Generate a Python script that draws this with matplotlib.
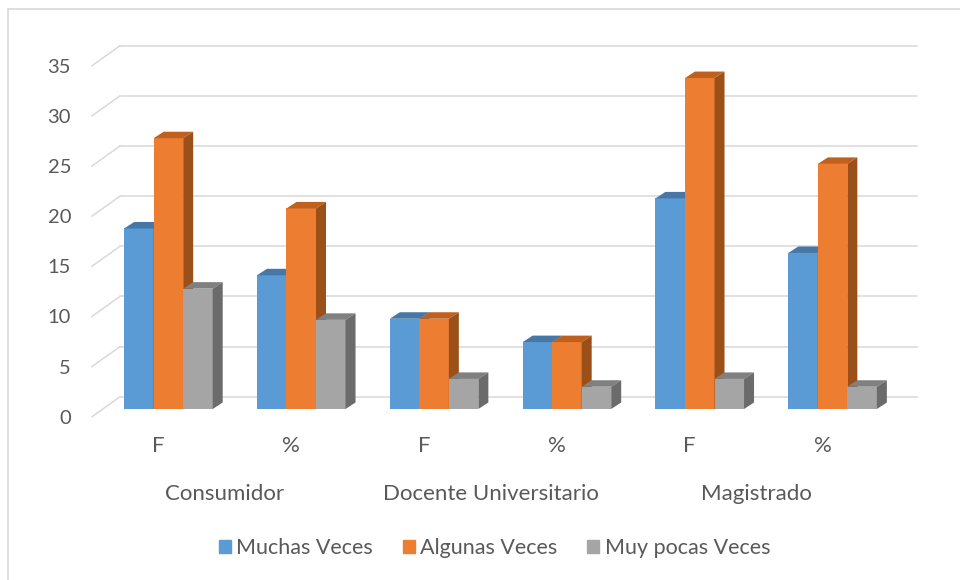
import matplotlib
matplotlib.use('Agg')
import matplotlib.pyplot as plt
from matplotlib.patches import Polygon, Patch
from matplotlib.lines import Line2D

categories = ['F', '%', 'F', '%', 'F', '%']
groups = ['Consumidor', 'Docente Universitario', 'Magistrado']
series = ['Muchas Veces', 'Algunas Veces', 'Muy pocas Veces']
muchas = [18, 13.33, 9, 6.67, 21, 15.56]
algunas = [27, 20, 9, 6.67, 33, 24.44]
muy_pocas = [12, 8.89, 3, 2.22, 3, 2.22]
yticks = [0, 5, 10, 15, 20, 25, 30, 35]

front_colors = ['#5b9bd5', '#ed7d31', '#a5a5a5']
top_colors = ['#4677a6', '#c0601f', '#808080']
side_colors = ['#3f6c96', '#9c5019', '#6b6b6b']
grid_color = '#d9d9d9'
text_color = '#595959'
font = ['Lato', 'DejaVu Sans']

W, H = 960, 580
fig = plt.figure(figsize=(W / 100, H / 100), dpi=100)
ax = fig.add_axes([120 / W, 1 - 396.7 / H, 797 / W, 351 / H])
ax.set_xlim(-0.5, 5.5)
ax.set_ylim(0, 35)
ax.axis('off')


def delta(dx, dy):
    # pixel offset -> data offset
    inv = ax.transData.inverted()
    (x0, y0), (x1, y1) = inv.transform([(0, 0), (dx, dy)])
    return x1 - x0, y1 - y0


floor_dx, floor_dy = delta(-28, -20)
front_dx, front_dy = delta(-18, -12.3)
depth_dx, depth_dy = delta(10, 6.5)

# back wall grid + floor diagonals
for v in yticks:
    ax.plot([-0.5, 5.5], [v, v], color=grid_color, lw=1.1, clip_on=False, zorder=1)
    ax.plot([-0.5, -0.5 + floor_dx], [v, v + floor_dy], color=grid_color,
            lw=1.1, clip_on=False, zorder=1)
    lx, _ = delta(-21, 0)
    ax.text(-0.5 + floor_dx + lx, v + floor_dy + delta(0, -1.5)[1], str(v),
            ha='right', va='center', fontsize=14.5, color=text_color, family=font)

w = 2.0 / 9
z = 2
for i in range(len(categories)):
    for s, vals in enumerate([muchas, algunas, muy_pocas]):
        v = vals[i]
        x0 = i - 1.0 / 3 + s * w + front_dx
        b = front_dy
        ax.bar(x0, v, width=w, bottom=b, align='edge', color=front_colors[s],
               lw=0, clip_on=False, zorder=z)
        top = [(x0, b + v), (x0 + w, b + v),
               (x0 + w + depth_dx, b + v + depth_dy), (x0 + depth_dx, b + v + depth_dy)]
        side = [(x0 + w, b), (x0 + w + depth_dx, b + depth_dy),
                (x0 + w + depth_dx, b + v + depth_dy), (x0 + w, b + v)]
        ax.add_patch(Polygon(top, closed=True, fc=top_colors[s], lw=0,
                             clip_on=False, zorder=z))
        ax.add_patch(Polygon(side, closed=True, fc=side_colors[s], lw=0,
                             clip_on=False, zorder=z))
        z += 1

# category labels
cat_y = delta(0, -(446 - 396.7))[1]
for i, c in enumerate(categories):
    ax.text(i + floor_dx, cat_y, c, ha='center', va='center', fontsize=16,
            color=text_color, family=font)
grp_y = delta(0, -(494 - 396.7))[1]
for k, g in enumerate(groups):
    ax.text(2 * k + 0.5 + floor_dx, grp_y, g, ha='center', va='center',
            fontsize=16, color=text_color, family=font)

handles = [Patch(color=c) for c in front_colors]
fig.legend(handles, series, loc='center', bbox_to_anchor=(0.515, 1 - 548 / H),
           ncol=3, frameon=False, handlelength=0.55, handleheight=0.55,
           handletextpad=0.25, columnspacing=1.4,
           prop={'family': font, 'size': 15.5}, labelcolor=text_color)

# chart border
fig.add_artist(Line2D([8 / W, 8 / W], [0, 1 - 9 / H], transform=fig.transFigure,
                      color=grid_color, lw=1.2))
fig.add_artist(Line2D([8 / W, 1], [1 - 9 / H, 1 - 9 / H], transform=fig.transFigure,
                      color=grid_color, lw=1.2))

fig.savefig('out.png', dpi=100)
